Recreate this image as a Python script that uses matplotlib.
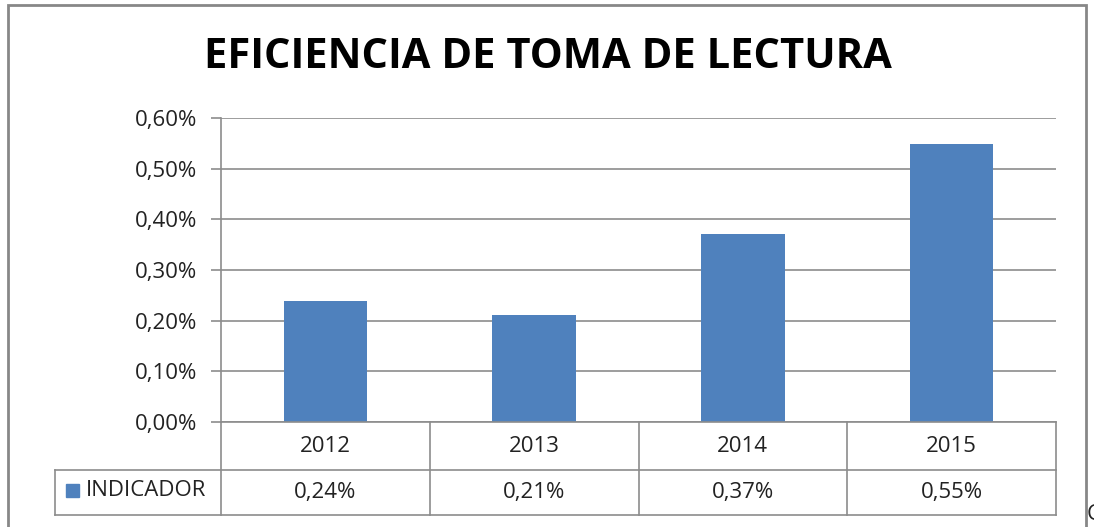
import matplotlib
matplotlib.use('Agg')
import matplotlib.pyplot as plt
from matplotlib.patches import Rectangle
from matplotlib.lines import Line2D
from matplotlib.transforms import blended_transform_factory

# datos
years = ['2012', '2013', '2014', '2015']
indicador = [0.239, 0.211, 0.371, 0.549]   # en %
value_labels = ['0,24%', '0,21%', '0,37%', '0,55%']
y_ticks = [0.0, 0.1, 0.2, 0.3, 0.4, 0.5, 0.6]
serie = 'INDICADOR'
titulo = 'EFICIENCIA DE TOMA DE LECTURA'

W, H = 1094, 527
BLUE = '#4F81BD'
GRID = '#8C8C8C'
TXT = '#222222'
FS = 16

plt.rcParams['font.family'] = ['Open Sans', 'DejaVu Sans']

fig = plt.figure(figsize=(W / 100, H / 100), dpi=100)


def fx(px):
    return px / W


def fy(py):
    return 1 - py / H


# borde del grafico
fig.patches.append(Rectangle((fx(8), fy(530)), fx(1086 - 8), (530 - 5) / H,
                             transform=fig.transFigure, fill=False,
                             edgecolor='#878787', linewidth=2))

left, right, top, bottom = 221, 1056, 118, 422
ax = fig.add_axes([fx(left), fy(bottom), fx(right - left), (bottom - top) / H])

x = range(len(years))
ax.bar(x, indicador, width=0.4, color=BLUE, zorder=3)
ax.set_xlim(-0.5, len(years) - 0.5)
ax.set_ylim(0, 0.6)
ax.set_yticks(y_ticks)
ax.set_yticklabels([f'{v:.2f}%'.replace('.', ',') for v in y_ticks],
                   fontsize=FS, color=TXT)
ax.set_xticks([])
ax.yaxis.grid(True, color=GRID, linewidth=1.2, zorder=0)
for s in ['top', 'right', 'bottom']:
    ax.spines[s].set_visible(False)
ax.spines['left'].set_color(GRID)
ax.spines['left'].set_linewidth(1.2)
ax.tick_params(axis='y', length=7, width=1.2, color=GRID, pad=10)

# tabla de datos
row1, row2, row3 = 422, 470, 515
tcol = dict(color=GRID, linewidth=1.2, transform=fig.transFigure)
fig.lines.append(Line2D([fx(left), fx(right)], [fy(row1)] * 2, **tcol))
fig.lines.append(Line2D([fx(55), fx(right)], [fy(row2)] * 2, **tcol))
fig.lines.append(Line2D([fx(55), fx(right)], [fy(row3)] * 2, **tcol))
fig.lines.append(Line2D([fx(55), fx(55)], [fy(row2), fy(row3)], **tcol))
fig.lines.append(Line2D([fx(left), fx(left)], [fy(row1), fy(row3)], **tcol))
cat_w = (right - left) / len(years)
for i in range(1, len(years) + 1):
    xp = left + i * cat_w
    fig.lines.append(Line2D([fx(xp), fx(xp)], [fy(row1), fy(row3)], **tcol))

trans = blended_transform_factory(ax.transData, fig.transFigure)
for i, (yr, lab) in enumerate(zip(years, value_labels)):
    ax.text(i, fy((row1 + row2) / 2), yr, transform=trans, ha='center',
            va='center', fontsize=FS, color=TXT, clip_on=False)
    ax.text(i, fy((row2 + row3) / 2), lab, transform=trans, ha='center',
            va='center', fontsize=FS, color=TXT, clip_on=False)

# leyenda en la tabla
fig.patches.append(Rectangle((fx(66), fy(497)), fx(13), 13 / H,
                             transform=fig.transFigure, color=BLUE))
fig.text(fx(86), fy(490), serie, ha='left', va='center', fontsize=FS,
         color=TXT)

fig.text(fx(548), fy(58), titulo, ha='center', va='center', fontsize=30,
         fontweight='bold', color='black')

# caracter cortado en el borde
fig.text(fx(1087), fy(514), 'C', ha='left', va='center', fontsize=16,
         color=TXT)

plt.savefig('out.png', dpi=100)
plt.close()
